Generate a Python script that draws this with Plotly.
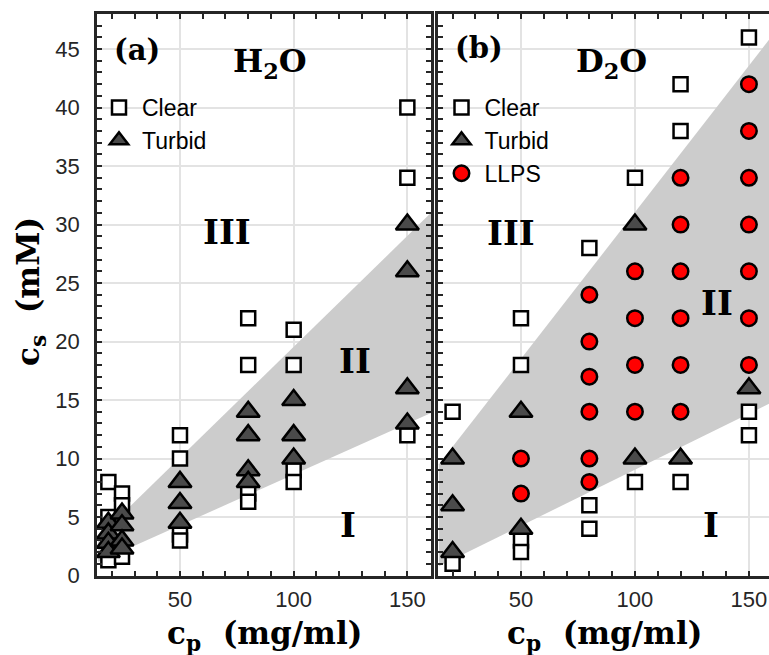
import plotly.graph_objects as go

# ---------------- data ----------------
# Panel (a) H2O
h2o_clear_cp = [13, 13, 13, 18.5, 18.5, 18.5, 24.5, 24.5, 24.5,
                50, 50, 50, 50, 80, 80, 80, 80, 100, 100, 100, 100, 150, 150, 150]
h2o_clear_cs = [5, 1.2, 0.6, 8, 5, 1.3, 7, 6, 1.6,
                12, 10, 3.5, 3, 22, 18, 7, 6.3, 21, 18, 9, 8, 40, 34, 12]
h2o_turbid_cp = [13, 13, 13, 13, 18.5, 18.5, 18.5, 18.5, 24.5, 24.5, 24.5, 24.5,
                 50, 50, 50, 80, 80, 80, 80, 100, 100, 100, 150, 150, 150, 150]
h2o_turbid_cs = [4, 3.2, 2.5, 1.8, 4.5, 3.6, 2.8, 2, 5.3, 4.3, 3.0, 2.3,
                 8, 6.2, 4.5, 14, 12, 9, 8, 15, 12, 10, 30, 26, 16, 13]
# region II boundary (H2O): lower edge then upper edge
h2o_band_cp = [14, 160.4, 160.4, 14]
h2o_band_cs = [1.15, 13.9, 31.0, 3.25]

# Panel (b) D2O
d2o_clear_cp = [20, 20, 50, 50, 50, 50, 80, 80, 80, 100, 100, 120, 120, 120, 150, 150, 150]
d2o_clear_cs = [14, 1, 22, 18, 3, 2, 28, 6, 4, 34, 8, 42, 38, 8, 46, 14, 12]
d2o_turbid_cp = [20, 20, 20, 50, 50, 100, 100, 120, 150]
d2o_turbid_cs = [10, 6, 2, 14, 4, 30, 10, 10, 16]
d2o_llps_cp = [50, 50, 80, 80, 80, 80, 80, 80, 100, 100, 100, 100,
               120, 120, 120, 120, 120, 120, 150, 150, 150, 150, 150, 150, 150]
d2o_llps_cs = [10, 7, 24, 20, 17, 14, 10, 8, 26, 22, 18, 14,
               34, 30, 26, 22, 18, 14, 42, 38, 34, 30, 26, 22, 18]
d2o_band_cp = [14, 160, 160, 14]
d2o_band_cs = [0.8, 14.8, 46.1, 9.5]

x_ticks = [50, 100, 150]

# ---------------- styles ----------------
W, H = 769, 655
AX = '#262626'
SERIF = 'DejaVu Serif'
SANS = 'Liberation Sans'
GRAY_FILL = '#cccccc'
TRI_FILL = '#4a4a4a'


def px_x(p):
    return p / W


def px_y(p):
    return 1 - p / H


ydom = [px_y(575.5), px_y(14)]

fig = go.Figure()

sq = dict(symbol='square', size=14, color='white', line=dict(color='black', width=2.5))
tri = dict(symbol='triangle-up', size=20, color=TRI_FILL, line=dict(color='black', width=2.5))
cir = dict(symbol='circle', size=15.5, color='#ff0000', line=dict(color='black', width=2.5))

# bands
fig.add_trace(go.Scatter(x=h2o_band_cp, y=h2o_band_cs, fill='toself', fillcolor=GRAY_FILL,
                         mode='lines', line=dict(width=0), hoverinfo='skip', showlegend=False,
                         xaxis='x', yaxis='y'))
fig.add_trace(go.Scatter(x=d2o_band_cp, y=d2o_band_cs, fill='toself', fillcolor=GRAY_FILL,
                         mode='lines', line=dict(width=0), hoverinfo='skip', showlegend=False,
                         xaxis='x2', yaxis='y2'))

# panel a
fig.add_trace(go.Scatter(x=h2o_clear_cp, y=h2o_clear_cs, mode='markers', marker=sq, name='Clear',
                         legend='legend', legendgroup='a1', cliponaxis=False, xaxis='x', yaxis='y'))
fig.add_trace(go.Scatter(x=h2o_turbid_cp, y=h2o_turbid_cs, mode='markers', marker=tri, name='Turbid',
                         legend='legend', legendgroup='a2', cliponaxis=False, xaxis='x', yaxis='y'))
# panel b
fig.add_trace(go.Scatter(x=d2o_clear_cp, y=d2o_clear_cs, mode='markers', marker=sq, name='Clear',
                         legend='legend2', legendgroup='b1', cliponaxis=False, xaxis='x2', yaxis='y2'))
fig.add_trace(go.Scatter(x=d2o_turbid_cp, y=d2o_turbid_cs, mode='markers', marker=tri, name='Turbid',
                         legend='legend2', legendgroup='b2', cliponaxis=False, xaxis='x2', yaxis='y2'))
fig.add_trace(go.Scatter(x=d2o_llps_cp, y=d2o_llps_cs, mode='markers', marker=cir, name='LLPS',
                         legend='legend2', legendgroup='b3', cliponaxis=False, xaxis='x2', yaxis='y2'))

common_axis = dict(showline=True, linecolor=AX, linewidth=2.5, ticks='inside', ticklen=5,
                   tickwidth=2, tickcolor=AX, showgrid=True, gridcolor='#e3e3e3', gridwidth=2,
                   zeroline=False, automargin=False,
                   tickfont=dict(family=SANS, size=22, color=AX))

xcommon = dict(common_axis, tickvals=x_ticks, mirror='ticks',
               minor=dict(dtick=10, tick0=0, ticks='inside', ticklen=5, tickwidth=2,
                          tickcolor=AX, showgrid=False))
ycommon = dict(common_axis, range=[0, 48], dtick=5, tick0=0,
               minor=dict(dtick=1, tick0=0, ticks='inside', ticklen=5, tickwidth=2,
                          tickcolor=AX, showgrid=False))

legend_common = dict(xanchor='left', yanchor='top', bgcolor='rgba(0,0,0,0)',
                     font=dict(family=SANS, size=23, color='black'),
                     traceorder='grouped', tracegroupgap=0, itemwidth=36)

fig.update_layout(
    width=W, height=H, margin=dict(l=0, r=0, t=0, b=0, autoexpand=False),
    paper_bgcolor='white', plot_bgcolor='white',
    xaxis=dict(xcommon, domain=[px_x(97), px_x(431)], range=[13.5, 160.4], anchor='y',
               ticklabelstandoff=2),
    yaxis=dict(ycommon, domain=ydom, anchor='x', mirror='ticks', ticklabelstandoff=10),
    xaxis2=dict(xcommon, domain=[px_x(438), 1.0], range=[13.6, 158.8], anchor='y2',
                ticklabelstandoff=2),
    yaxis2=dict(ycommon, domain=ydom, anchor='x2', mirror=False, showticklabels=False),
    legend=dict(legend_common, x=px_x(96), y=px_y(86)),
    legend2=dict(legend_common, x=px_x(438.5), y=px_y(86)),
    showlegend=True,
)

ann_font = lambda s: dict(family=SERIF, size=s, color='black')
annotations = [
    # panel labels
    dict(x=31.1, y=44.9, xref='x', yref='y', text='<b>(a)</b>', font=ann_font(29)),
    dict(x=89.6, y=43.8, xref='x', yref='y', text='<b>H<sub>2</sub>O</b>', font=ann_font(32)),
    dict(x=70.7, y=29.4, xref='x', yref='y', text='<b>III</b>', font=ann_font(34)),
    dict(x=127, y=18.3, xref='x', yref='y', text='<b>II</b>', font=ann_font(34)),
    dict(x=123.7, y=4.3, xref='x', yref='y', text='<b>I</b>', font=ann_font(34)),
    dict(x=31.6, y=45.1, xref='x2', yref='y2', text='<b>(b)</b>', font=ann_font(29)),
    dict(x=89.9, y=43.8, xref='x2', yref='y2', text='<b>D<sub>2</sub>O</b>', font=ann_font(32)),
    dict(x=45.6, y=29.3, xref='x2', yref='y2', text='<b>III</b>', font=ann_font(34)),
    dict(x=136.2, y=23.3, xref='x2', yref='y2', text='<b>II</b>', font=ann_font(34)),
    dict(x=133.3, y=4.3, xref='x2', yref='y2', text='<b>I</b>', font=ann_font(34)),
    # axis titles
    dict(x=px_x(30), y=px_y(292), xref='paper', yref='paper', textangle=-90,
         text='<b>c<sub>s</sub>  (mM)</b>', font=ann_font(31)),
    dict(x=px_x(264), y=px_y(635), xref='paper', yref='paper',
         text='<b>c<sub>p</sub>  (mg/ml)</b>', font=ann_font(31)),
    dict(x=px_x(604), y=px_y(635), xref='paper', yref='paper',
         text='<b>c<sub>p</sub>  (mg/ml)</b>', font=ann_font(31)),
]
for a in annotations:
    a['showarrow'] = False
    a['xanchor'] = 'center'
    a['yanchor'] = 'middle'
fig.update_layout(annotations=annotations)

fig.write_html('out.html')
